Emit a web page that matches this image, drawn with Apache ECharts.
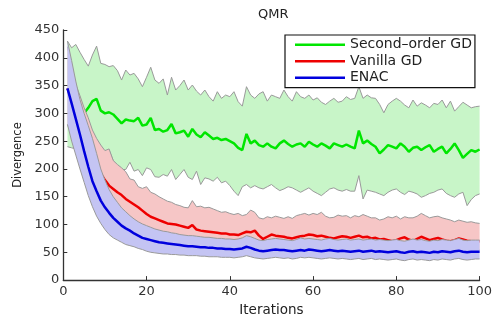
<!DOCTYPE html>
<html>
<head>
<meta charset="utf-8">
<script src="https://cdn.jsdelivr.net/npm/echarts@6/dist/echarts.min.js"></script>
<style>
  html, body { margin: 0; padding: 0; background: #ffffff; }
  #chart { width: 495px; height: 322px; }
</style>
</head>
<body>
<div id="chart"></div>
<script>
// Iteration axis: 0..100, runs are recorded from iteration 1
const iterationLabels = [];
for (let i = 0; i <= 100; i++) iterationLabels.push(String(i));

// Second-order GD: mean and spread
const greenMean = [
  345, 335, 325, 312, 300, 310, 322, 326, 305, 300,
  302, 298, 290, 282, 289, 287, 286, 292, 278, 280,
  292, 270, 272, 267, 270, 281, 264, 266, 269, 258,
  272, 262, 257, 266, 260, 254, 256, 252, 254, 250,
  246, 238, 234, 263, 246, 251, 243, 240, 246, 240,
  237, 246, 251, 245, 240, 244, 246, 240, 249, 244,
  240, 246, 242, 237, 246, 243, 240, 244, 240, 237,
  269, 246, 251, 245, 240, 228, 235, 243, 240, 237,
  246, 240, 231, 238, 240, 234, 239, 243, 231, 236,
  240, 228, 236, 246, 234, 220, 227, 234, 231, 235
];
const greenUpper = [
  430, 418, 424, 410, 397, 385, 405, 421, 390, 388,
  384, 386, 377, 360, 378, 369, 372, 362, 348, 365,
  383, 360, 354, 362, 333, 365, 342, 350, 360, 342,
  351, 340, 333, 342, 330, 322, 339, 327, 333, 330,
  339, 321, 313, 348, 333, 327, 335, 339, 322, 333,
  330, 327, 342, 330, 322, 339, 330, 327, 333, 324,
  328, 320, 316, 322, 327, 320, 322, 330, 325, 327,
  348, 327, 333, 328, 327, 316, 301, 316, 322, 327,
  322, 315, 310, 324, 313, 319, 315, 310, 318, 316,
  324, 310, 322, 304, 312, 320, 315, 310, 312, 313
];
const greenLower = [
  240, 238, 236, 234, 232, 230, 228, 226, 225, 228,
  234, 215, 205, 199, 199, 212, 196, 199, 188, 202,
  199, 186, 185, 190, 187, 199, 181, 190, 199, 185,
  181, 196, 172, 184, 182, 178, 185, 175, 178, 170,
  160, 152, 168, 172, 166, 170, 166, 164, 168, 172,
  166, 161, 164, 168, 166, 162, 158, 162, 166, 160,
  156, 152, 158, 164, 166, 162, 160, 163, 160, 160,
  188, 146, 162, 160, 158, 155, 152, 158, 162, 164,
  158, 154, 160, 158, 155, 149, 152, 156, 158, 162,
  164, 156, 152, 149, 155, 158, 134, 145, 152, 155
];

// Vanilla GD: mean and spread
const redMean = [
  345, 325, 300, 280, 260, 240, 222, 206, 192, 180,
  170, 164, 158, 153, 146, 141, 136, 131, 125, 119,
  114, 111, 108, 105, 102, 101, 100, 98, 96, 94,
  99, 91, 89, 88, 87, 86, 85, 84, 84, 82,
  82, 81, 84, 87, 86, 89, 80, 74, 78, 82,
  80, 79, 78, 76, 75, 77, 79, 80, 82, 81,
  79, 80, 78, 76, 75, 77, 79, 78, 76, 78,
  80, 77, 78, 75, 76, 73, 74, 72, 70, 72,
  75, 77, 73, 70, 74, 78, 75, 72, 74, 76,
  73, 71, 70, 72, 75, 73, 71, 70, 70, 70
];
const redUpper = [
  420, 385, 352, 332, 310, 292, 270, 255, 243, 233,
  236, 215, 208, 202, 195, 182, 180, 168, 165, 168,
  158, 155, 150, 146, 142, 140, 136, 134, 131, 130,
  143, 132, 133, 130, 131, 128, 125, 122, 123, 120,
  118, 120, 116, 118, 126, 122, 112, 110, 114, 112,
  115, 113, 111, 114, 111, 116, 118, 120, 117, 120,
  118, 122, 115, 112, 113, 117, 115, 116, 112, 116,
  114, 118, 115, 112, 112, 108, 110, 114, 112, 115,
  110, 114, 112, 112, 115, 120, 116, 112, 114, 115,
  112, 110, 108, 105, 108, 106, 104, 105, 103, 102
];
const redLower = [
  280, 262, 240, 215, 195, 175, 158, 143, 130, 120,
  111, 104, 97, 92, 88, 84, 80, 77, 75, 73,
  71, 69, 68, 67, 66, 65, 64, 63, 63, 62,
  64, 61, 61, 60, 60, 60, 59, 59, 59, 58,
  58, 58, 60, 62, 61, 62, 58, 56, 58, 59,
  58, 58, 57, 57, 56, 57, 58, 58, 59, 59,
  58, 58, 57, 56, 56, 57, 58, 58, 57, 58,
  59, 57, 58, 56, 57, 55, 56, 55, 54, 55,
  56, 57, 55, 54, 55, 57, 56, 55, 55, 56,
  55, 54, 54, 55, 56, 55, 54, 54, 54, 54
];

// ENAC: mean and spread
const blueMean = [
  345, 318, 290, 262, 232, 204, 178, 160, 143, 131,
  121, 112, 105, 98, 93, 89, 84, 80, 76, 74,
  72, 70, 68, 67, 66, 65, 64, 63, 62, 61,
  61, 60, 59, 59, 58, 58, 57, 57, 56, 56,
  55, 56, 57, 60, 58, 55, 53, 52, 53, 54,
  55, 54, 54, 53, 52, 53, 54, 53, 55, 54,
  53, 52, 53, 54, 53, 52, 53, 52, 51, 52,
  53, 51, 52, 53, 51, 52, 51, 50, 51, 52,
  50, 49, 51, 52, 50, 51, 50, 49, 51, 50,
  52, 51, 50, 52, 53, 51, 50, 51, 51, 51
];
const blueUpper = [
  430, 395, 358, 325, 300, 278, 255, 228, 200, 180,
  163, 150, 140, 130, 123, 116, 110, 105, 101, 98,
  95, 92, 90, 88, 87, 85, 84, 82, 81, 80,
  80, 79, 78, 77, 77, 76, 75, 75, 74, 74,
  73, 74, 76, 80, 78, 75, 72, 71, 73, 74,
  75, 74, 73, 72, 71, 73, 76, 74, 75, 74,
  73, 72, 74, 75, 73, 72, 73, 74, 72, 73,
  74, 72, 73, 74, 72, 73, 72, 71, 72, 73,
  71, 70, 72, 74, 72, 73, 71, 70, 72, 71,
  73, 72, 71, 73, 75, 72, 71, 72, 72, 72
];
const blueLower = [
  280, 250, 225, 200, 176, 152, 132, 115, 102, 91,
  82, 76, 72, 68, 64, 62, 60, 57, 55, 52,
  50, 49, 48, 47, 47, 46, 46, 45, 45, 44,
  44, 44, 43, 43, 42, 42, 42, 41, 41, 41,
  40, 41, 42, 44, 42, 40, 39, 38, 39, 40,
  41, 40, 39, 40, 38, 39, 41, 40, 41, 40,
  39, 38, 39, 40, 39, 38, 39, 38, 37, 38,
  39, 37, 38, 39, 37, 38, 37, 36, 37, 38,
  36, 35, 37, 38, 36, 37, 36, 35, 37, 36,
  38, 37, 36, 38, 39, 37, 36, 37, 38, 38
];

const FONT = 'DejaVu Sans';
const EDGE = '#9a9a9a';

// Values start at iteration 1, so slot 0 on the axis stays empty
function onAxis(vals) {
  return [null].concat(vals);
}

// A shaded spread: invisible base at the lower bound, a stacked filled
// layer up to the upper bound, a grey lower outline, then the mean line.
// Each method gets its own z layer so its fill covers the methods drawn before it.
function methodSeries(name, mean, lower, upper, lineColor, fillColor, layer) {
  const stack = 'spread-' + name;
  return [
    {
      type: 'line', stack: stack, data: onAxis(lower), z: layer,
      symbol: 'none', silent: true,
      lineStyle: { opacity: 0 }
    },
    {
      type: 'line', stack: stack, z: layer,
      data: onAxis(upper.map((u, i) => u - lower[i])),
      symbol: 'none', silent: true,
      lineStyle: { color: EDGE, width: 1 },
      areaStyle: { color: fillColor, opacity: 1 }
    },
    {
      type: 'line', data: onAxis(lower), z: layer,
      symbol: 'none', silent: true,
      lineStyle: { color: EDGE, width: 1 }
    },
    {
      name: name, type: 'line', data: onAxis(mean), z: layer,
      symbol: 'none',
      itemStyle: { color: lineColor },
      lineStyle: { color: lineColor, width: 2.5 }
    }
  ];
}

const chart = echarts.init(document.getElementById('chart'), null, { renderer: 'canvas' });

chart.setOption({
  animation: false,
  backgroundColor: '#ffffff',
  title: {
    text: 'QMR',
    left: 258, top: 8, padding: 0,
    textStyle: { fontFamily: FONT, fontSize: 13, fontWeight: 'normal', color: '#222' }
  },
  legend: {
    data: ['Second–order GD', 'Vanilla GD', 'ENAC'],
    orient: 'vertical',
    left: 285, top: 35, z: 10,
    padding: [1.6, 3, 1.6, 10],
    itemGap: 0,
    itemWidth: 50, itemHeight: 2.5,
    icon: 'rect',
    backgroundColor: '#ffffff',
    borderColor: '#111111', borderWidth: 1.2, borderRadius: 0,
    textStyle: { fontFamily: FONT, fontSize: 14, color: '#222', lineHeight: 16.5 }
  },
  grid: { left: 63.3, right: 12.7, top: 30, bottom: 35.3 },
  xAxis: {
    type: 'category', data: iterationLabels, boundaryGap: false,
    name: 'Iterations', nameLocation: 'middle', nameGap: 19,
    nameTextStyle: { fontFamily: FONT, fontSize: 13.5, color: '#222' },
    axisLine: { show: true, lineStyle: { color: '#333', width: 1.3 } },
    axisTick: { show: true, inside: true, length: 4, interval: 19, lineStyle: { color: '#333', width: 1 } },
    axisLabel: { fontFamily: FONT, fontSize: 13, color: '#333', margin: 5, interval: 19 },
    splitLine: { show: false },
    z: 8
  },
  yAxis: {
    type: 'value', min: 0, max: 450, interval: 50,
    name: 'Divergence', nameLocation: 'middle', nameGap: 38,
    nameTextStyle: { fontFamily: FONT, fontSize: 11.5, color: '#222' },
    axisLine: { show: true, lineStyle: { color: '#333', width: 1.3 } },
    axisTick: { show: true, inside: true, length: 4, lineStyle: { color: '#333', width: 1 } },
    axisLabel: { fontFamily: FONT, fontSize: 13, color: '#333', margin: 4 },
    splitLine: { show: false },
    z: 8
  },
  series: [].concat(
    methodSeries('Second–order GD', greenMean, greenLower, greenUpper, '#00e600', '#c8f5c8', 2),
    methodSeries('Vanilla GD', redMean, redLower, redUpper, '#ee0000', '#f6c6c6', 3),
    methodSeries('ENAC', blueMean, blueLower, blueUpper, '#0000dd', '#c4c4f3', 4)
  )
});
</script>
</body>
</html>
